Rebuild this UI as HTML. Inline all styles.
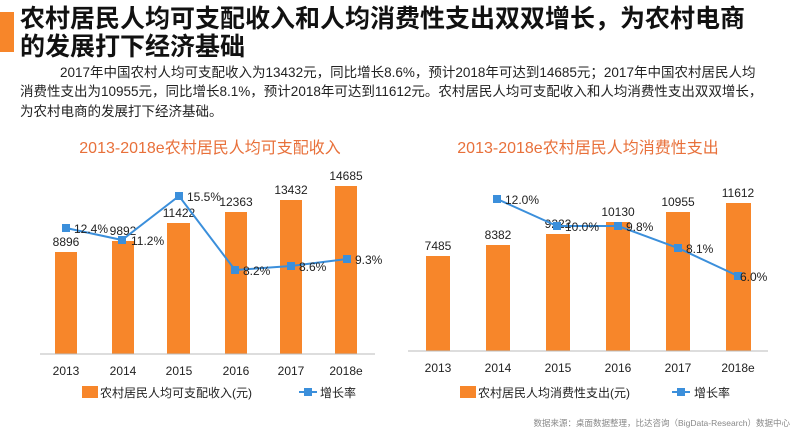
<!DOCTYPE html>
<html><head><meta charset="utf-8"><style>
body{margin:0;width:800px;height:433px;background:#fff;overflow:hidden;position:relative;font-family:"Liberation Sans","Noto Sans CJK SC",sans-serif;}
.bar{position:absolute;left:0;top:12px;width:14px;height:40px;background:#f7862a;}
.h{position:absolute;left:20px;font-weight:bold;font-size:25px;color:#111;white-space:nowrap;line-height:27px;}
.p{position:absolute;left:20px;font-size:13.5px;color:#222;white-space:nowrap;line-height:15px;}
svg{position:absolute;left:0;top:0;}
</style></head><body>
<div class="bar"></div>
<div class="h" style="top:6px">农村居民人均可支配收入和人均消费性支出双双增长，为农村电商</div>
<div class="h" style="top:34px">的发展打下经济基础</div>
<div class="p" style="top:65px;left:60px">2017年中国农村人均可支配收入为13432元，同比增长8.6%，预计2018年可达到14685元；2017年中国农村居民人均</div>
<div class="p" style="top:84px">消费性支出为10955元，同比增长8.1%，预计2018年可达到11612元。农村居民人均可支配收入和人均消费性支出双双增长，</div>
<div class="p" style="top:104px">为农村电商的发展打下经济基础。</div>
<svg width="800" height="433" font-family="Liberation Sans, Noto Sans CJK SC, sans-serif">
<text x="210" y="153" text-anchor="middle" font-size="16" fill="#e8703a">2013-2018e农村居民人均可支配收入</text>
<text x="588" y="153" text-anchor="middle" font-size="16" fill="#e8703a">2013-2018e农村居民人均消费性支出</text>
<g fill="#f7862a">
<rect x="55" y="252" width="22" height="102"/><rect x="112" y="241" width="22" height="113"/><rect x="167" y="223" width="23" height="131"/><rect x="225" y="212" width="22" height="142"/><rect x="280" y="200" width="22" height="154"/><rect x="335" y="186" width="22" height="168"/>
<rect x="426" y="256" width="24" height="95"/><rect x="486" y="245" width="24" height="106"/><rect x="546" y="234" width="24" height="117"/><rect x="606" y="222" width="24" height="129"/><rect x="666" y="212" width="24" height="139"/><rect x="726" y="203" width="25" height="148"/>
</g>
<line x1="40" y1="354" x2="375" y2="354" stroke="#bbb"/>
<line x1="408" y1="351" x2="768" y2="351" stroke="#bbb"/>
<g font-size="12" fill="#222" text-anchor="middle">
<text x="66" y="246">8896</text><text x="123" y="235">9892</text><text x="179" y="217">11422</text><text x="236" y="206">12363</text><text x="291" y="194">13432</text><text x="346" y="180">14685</text>
<text x="438" y="250">7485</text><text x="498" y="239">8382</text><text x="558" y="228">9222</text><text x="618" y="216">10130</text><text x="678" y="206">10955</text><text x="738" y="197">11612</text>
<text x="66" y="375">2013</text><text x="123" y="375">2014</text><text x="179" y="375">2015</text><text x="236" y="375">2016</text><text x="291" y="375">2017</text><text x="346" y="375">2018e</text>
<text x="438" y="372">2013</text><text x="498" y="372">2014</text><text x="558" y="372">2015</text><text x="618" y="372">2016</text><text x="678" y="372">2017</text><text x="738" y="372">2018e</text>
</g>
<polyline points="66,228 122,240 179,196 235,270 291,266 347,259" fill="none" stroke="#3b8fdb" stroke-width="2"/>
<polyline points="497,199 557,226 618,226 678,248 738,276" fill="none" stroke="#3b8fdb" stroke-width="2"/>
<g fill="#3b8fdb">
<rect x="62" y="224" width="8" height="8"/><rect x="118" y="236" width="8" height="8"/><rect x="175" y="192" width="8" height="8"/><rect x="231" y="266" width="8" height="8"/><rect x="287" y="262" width="8" height="8"/><rect x="343" y="255" width="8" height="8"/>
<rect x="493" y="195" width="8" height="8"/><rect x="553" y="222" width="8" height="8"/><rect x="614" y="222" width="8" height="8"/><rect x="674" y="244" width="8" height="8"/><rect x="734" y="272" width="8" height="8"/>
</g>
<g font-size="12" fill="#222">
<text x="74" y="233">12.4%</text><text x="131" y="245">11.2%</text><text x="187" y="201">15.5%</text><text x="243" y="275">8.2%</text><text x="299" y="271">8.6%</text><text x="355" y="264">9.3%</text>
<text x="505" y="204">12.0%</text><text x="565" y="231">10.0%</text><text x="626" y="231">9.8%</text><text x="686" y="253">8.1%</text><text x="740" y="281">6.0%</text>
</g>
<rect x="82" y="386" width="16" height="12" fill="#f7862a"/>
<text x="100" y="397" font-size="12" fill="#222">农村居民人均可支配收入(元)</text>
<line x1="299" y1="392" x2="317" y2="392" stroke="#3b8fdb" stroke-width="2"/><rect x="304" y="388" width="8" height="8" fill="#3b8fdb"/>
<text x="320" y="397" font-size="12" fill="#222">增长率</text>
<rect x="460" y="386" width="16" height="12" fill="#f7862a"/>
<text x="478" y="397" font-size="12" fill="#222">农村居民人均消费性支出(元)</text>
<line x1="672" y1="392" x2="690" y2="392" stroke="#3b8fdb" stroke-width="2"/><rect x="677" y="388" width="8" height="8" fill="#3b8fdb"/>
<text x="694" y="397" font-size="12" fill="#222">增长率</text>
<text x="790" y="426" text-anchor="end" font-size="8.5" fill="#888">数据来源：桌面数据整理，比达咨询（BigData-Research）数据中心</text>
</svg>
</body></html>
